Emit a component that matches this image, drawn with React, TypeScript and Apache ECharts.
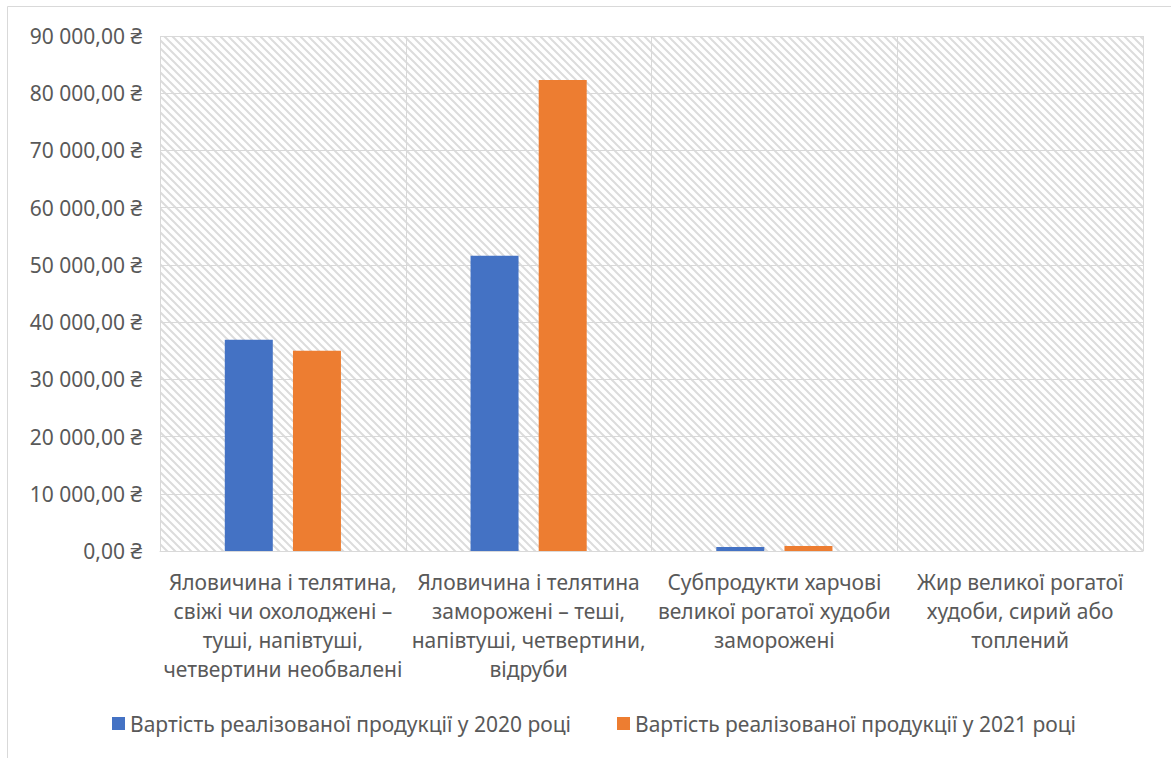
import React, { useEffect, useRef } from "react";
import * as echarts from "echarts";

const categories = [
  "Яловичина і телятина,\nсвіжі чи охолоджені –\nтуші, напівтуші,\nчетвертини необвалені",
  "Яловичина і телятина\nзаморожені – теші,\nнапівтуші, четвертини,\nвідруби",
  "Субпродукти харчові\nвеликої рогатої худоби\nзаморожені",
  "Жир великої рогатої\nхудоби, сирий або\nтоплений",
];
const seriesNames = [
  "Вартість реалізованої продукції у 2020 році",
  "Вартість реалізованої продукції у 2021 році",
];
const values2020 = [36900, 51600, 700, 0];
const values2021 = [35000, 82300, 870, 0];

const FONT = "Noto Sans";
const FS = 21;
const TEXT = "#595959";
const GRID = "#d9d9d9";

function fmt(v: number): string {
  const s = Math.round(v).toString().replace(/\B(?=(\d{3})+(?!\d))/g, " ");
  return s + ",00 ₴";
}

function makePattern(): HTMLCanvasElement {
  const c = document.createElement("canvas");
  c.width = 8;
  c.height = 8;
  const ctx = c.getContext("2d")!;
  ctx.fillStyle = "#ffffff";
  ctx.fillRect(0, 0, 8, 8);
  ctx.strokeStyle = "#dcdcdc";
  ctx.lineWidth = 2;
  ctx.beginPath();
  ctx.moveTo(-1, -1);
  ctx.lineTo(9, 9);
  ctx.moveTo(7, -1);
  ctx.lineTo(9, 1);
  ctx.moveTo(-1, 7);
  ctx.lineTo(1, 9);
  ctx.stroke();
  return c;
}

export default function App() {
  const ref = useRef<HTMLDivElement>(null);
  useEffect(() => {
    if (!ref.current) return;
    const chart = echarts.init(ref.current, null, { renderer: "svg" });
    chart.setOption({
      animation: false,
      backgroundColor: "#ffffff",
      textStyle: { fontFamily: FONT },
      graphic: [
        {
          type: "rect",
          shape: { x: 7.5, y: 6.5, width: 1300, height: 900 },
          style: { fill: "none", stroke: GRID, lineWidth: 1 },
          silent: true,
          z: -10,
        },
      ],
      grid: {
        left: 160,
        right: 28,
        top: 36,
        bottom: 207,
        show: true,
        borderWidth: 0,
        backgroundColor: { image: makePattern(), repeat: "repeat" },
      },
      legend: {
        data: seriesNames,
        left: 107,
        top: 708,
        itemWidth: 13,
        itemHeight: 13,
        itemGap: 46,
        icon: "rect",
        textStyle: { fontFamily: FONT, fontSize: FS, color: TEXT },
      },
      xAxis: {
        type: "category",
        data: categories,
        axisTick: { show: false },
        axisLine: { lineStyle: { color: GRID, width: 1 } },
        splitLine: { show: true, lineStyle: { color: GRID, width: 1 } },
        axisLabel: {
          interval: 0,
          fontFamily: FONT,
          fontSize: FS,
          lineHeight: 29,
          color: TEXT,
          margin: 16,
          align: "center",
        },
      },
      yAxis: {
        type: "value",
        min: 0,
        max: 90000,
        interval: 10000,
        axisLine: { show: false },
        axisTick: { show: false },
        splitLine: { show: true, lineStyle: { color: GRID, width: 1 } },
        axisLabel: {
          formatter: (v: number) => fmt(v),
          fontFamily: FONT,
          fontSize: FS,
          color: TEXT,
          margin: 18,
        },
      },
      series: [
        {
          name: seriesNames[0],
          type: "bar",
          data: values2020,
          barWidth: 48,
          barGap: "42%",
          itemStyle: { color: "#4472C4" },
        },
        {
          name: seriesNames[1],
          type: "bar",
          data: values2021,
          barWidth: 48,
          itemStyle: { color: "#ED7D31" },
        },
      ],
    });
    return () => chart.dispose();
  }, []);
  return (
    <div
      ref={ref}
      style={{ position: "fixed", left: 0, top: 0, width: 1171, height: 758 }}
    />
  );
}
